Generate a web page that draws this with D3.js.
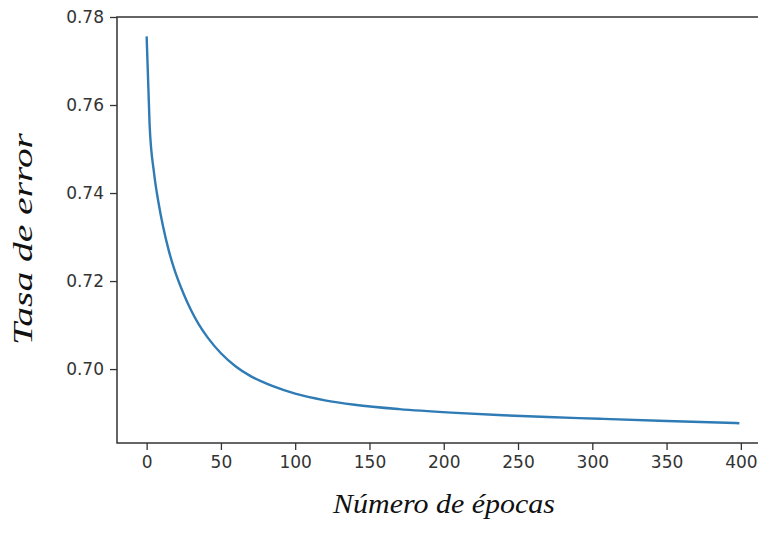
<!DOCTYPE html>
<meta charset="utf-8">
<head>
  <script src="https://d3js.org/d3.v7.min.js"></script>
  <style>
    body { margin: 0; background: #fff; }
    .tick text { font-family: "DejaVu Sans", sans-serif; font-size: 17px; fill: #333; }
    .title { font-family: "Liberation Serif", serif; font-style: italic; font-size: 27px; fill: #111; }
  </style>
</head>
<body>
<div id="container"></div>
<script>
// error rate per epoch
var epochs = [0, 2, 5, 8, 11, 15, 19, 25, 30, 35, 41, 50, 60, 70, 85, 100, 120, 140, 170, 205, 240, 270, 305, 350, 399];
var errorRate = [0.7756, 0.7555, 0.7445, 0.7378, 0.7325, 0.7268, 0.7223, 0.7170, 0.7133, 0.7102, 0.7072, 0.7036, 0.7006, 0.6984, 0.6961, 0.6944, 0.6929, 0.6919, 0.6909, 0.6901, 0.6895, 0.6891, 0.6887, 0.6882, 0.6877];
var xTicks = [0, 50, 100, 150, 200, 250, 300, 350, 400];
var yTicks = [0.70, 0.72, 0.74, 0.76, 0.78];

var width = 758, height = 533;
var mLeft = 117, mTop = 17, mRight = 769, mBottom = 443;

var svg = d3.select("#container").append("svg")
  .attr("width", width)
  .attr("height", height);

var x = d3.scaleLinear().domain([-19.95, 418.95]).range([mLeft, mRight]);
var y = d3.scaleLinear().domain([0.6832, 0.78]).range([mBottom, mTop]);

var xAxis = svg.append("g")
  .attr("transform", "translate(0," + mBottom + ")")
  .call(d3.axisBottom(x).tickValues(xTicks).tickSize(7).tickPadding(6).tickFormat(d3.format("d")));
var yAxis = svg.append("g")
  .attr("transform", "translate(" + mLeft + ",0)")
  .call(d3.axisLeft(y).tickValues(yTicks).tickSize(7).tickPadding(6).tickFormat(d3.format(".2f")));

[xAxis, yAxis].forEach(function (g) {
  g.select(".domain").remove();
  g.selectAll(".tick line").attr("stroke", "#333").attr("stroke-width", 1.3);
});

// spines
svg.append("rect")
  .attr("x", mLeft).attr("y", mTop)
  .attr("width", mRight - mLeft).attr("height", mBottom - mTop)
  .attr("fill", "none").attr("stroke", "#333").attr("stroke-width", 1.5);

var line = d3.line()
  .x(function (d, i) { return x(epochs[i]); })
  .y(function (d) { return y(d); })
  .curve(d3.curveMonotoneX);

svg.append("path")
  .datum(errorRate)
  .attr("d", line)
  .attr("fill", "none")
  .attr("stroke", "#2f7bb5")
  .attr("stroke-width", 2.4);

svg.append("text")
  .attr("class", "title")
  .attr("x", 444).attr("y", 513)
  .attr("text-anchor", "middle")
  .attr("textLength", 222).attr("lengthAdjust", "spacingAndGlyphs")
  .text("Número de épocas");

svg.append("text")
  .attr("class", "title")
  .attr("transform", "translate(32,239) rotate(-90)")
  .attr("text-anchor", "middle")
  .attr("textLength", 212).attr("lengthAdjust", "spacingAndGlyphs")
  .text("Tasa de error");
</script>
</body>
